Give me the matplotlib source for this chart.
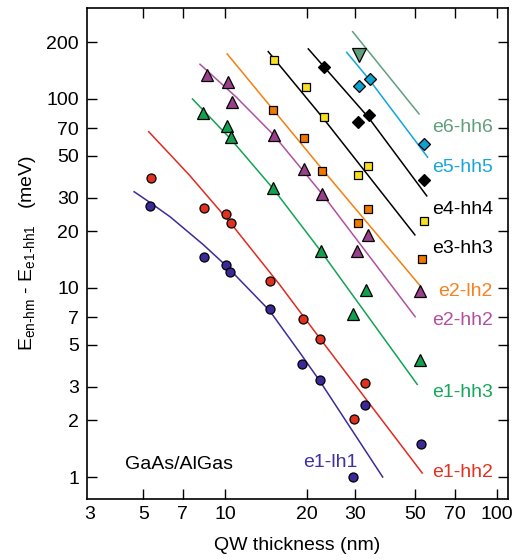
import numpy as np
import matplotlib
matplotlib.use("Agg")
import matplotlib.pyplot as plt
from matplotlib.ticker import FixedLocator, FixedFormatter, NullLocator

plt.rcParams['font.family'] = ['Liberation Sans', 'DejaVu Sans']
plt.rcParams['mathtext.fontset'] = 'custom'
plt.rcParams['mathtext.rm'] = 'Liberation Sans'

# measured points (QW thickness nm, energy meV)
e1lh1_x = [5.31, 8.37, 10.06, 10.47, 14.6, 19.2, 22.4, 32.9, 29.5, 52.5]
e1lh1_y = [27.0, 14.5, 13.2, 12.2, 7.7, 3.96, 3.26, 2.41, 1.0, 1.49]
e1hh2_x = [5.32, 8.37, 10.12, 10.53, 14.7, 19.3, 22.4, 32.9, 29.8]
e1hh2_y = [38.1, 26.4, 24.5, 22.0, 10.9, 6.86, 5.39, 3.15, 2.02]
e1hh3_x = [8.32, 10.2, 10.5, 15.0, 22.5, 33.1, 29.7, 52.0]
e1hh3_y = [84.0, 72.3, 63.2, 33.7, 15.7, 9.76, 7.26, 4.16]
e2hh2_x = [8.55, 10.26, 10.6, 15.1, 19.6, 22.8, 33.6, 30.6, 52.3]
e2hh2_y = [134, 123, 96.8, 64.5, 42.6, 31.4, 19.1, 15.7, 9.64]
e2lh2_x = [15.0, 19.6, 22.8, 33.5, 30.8, 53.1]
e2lh2_y = [87.5, 62.0, 41.8, 26.1, 22.0, 14.2]
e3hh3_x = [15.2, 19.85, 23.1, 30.8, 33.6, 54.0]
e3hh3_y = [161, 115, 80.3, 39.6, 44.0, 22.7]
e4hh4_x = [23.2, 31.0, 33.8, 53.8]
e4hh4_y = [148, 75.8, 82.3, 37.3]
e5hh5_x = [31.2, 34.2, 54.0]
e5hh5_y = [117.5, 127, 57.8]
e6hh6_x = [31.2]
e6hh6_y = [171]

# calculated curves
fit_e1lh1_x = [4.63, 5.3, 6.28, 8.3, 10.05, 14.58, 18.9, 22.4, 38.05]
fit_e1lh1_y = [32.3, 28.3, 23.8, 17.0, 13.2, 7.6, 4.53, 3.2, 1.0]
fit_e1hh2_x = [5.24, 7.4, 10.5, 15.9, 22.4, 53.2]
fit_e1hh2_y = [67.1, 39.5, 22.0, 10.4, 5.39, 1.05]
fit_e1hh3_x = [7.59, 10.5, 15.0, 22.5, 51.0]
fit_e1hh3_y = [100, 61.4, 33.7, 15.7, 3.09]
fit_e2hh2_x = [8.09, 11.0, 15.1, 22.8, 50.1]
fit_e2hh2_y = [152.6, 102.3, 64.5, 31.4, 7.05]
fit_e2lh2_x = [10.19, 22.8, 52.2]
fit_e2lh2_y = [173, 42.5, 10.3]
fit_e3hh3_x = [14.43, 23.0, 50.0]
fit_e3hh3_y = [178, 79, 19.1]
fit_e4hh4_x = [20.26, 33.7, 55.3]
fit_e4hh4_y = [184, 80, 30.7]
fit_e5hh5_x = [28.05, 33.9, 55.7]
fit_e5hh5_y = [176.6, 127, 49.2]
fit_e6hh6_x = [29.5, 51.8]
fit_e6hh6_y = [227, 83.3]

xticks = [5, 7, 10, 20, 30, 50, 70, 100]
yticks = [1, 2, 3, 5, 7, 10, 20, 30, 50, 70, 100, 200]

fig = plt.figure(figsize=(5.26, 5.6), dpi=100)
ax = fig.add_axes([0.1648, 0.1095, 0.8004, 0.8763])
ax.set_xscale('log')
ax.set_yscale('log')

fs = 14
lw = 1.1

# lines first
ax.plot(fit_e1lh1_x, fit_e1lh1_y, color='#3a2d9a', lw=lw)
ax.plot(fit_e1hh2_x, fit_e1hh2_y, color='#e02a20', lw=lw)
ax.plot(fit_e1hh3_x, fit_e1hh3_y, color='#12a354', lw=lw)
ax.plot(fit_e2hh2_x, fit_e2hh2_y, color='#b050a0', lw=lw)
ax.plot(fit_e2lh2_x, fit_e2lh2_y, color='#f28010', lw=lw)
ax.plot(fit_e3hh3_x, fit_e3hh3_y, color='black', lw=lw)
ax.plot(fit_e4hh4_x, fit_e4hh4_y, color='black', lw=lw)
ax.plot(fit_e5hh5_x, fit_e5hh5_y, color='#10a6dc', lw=lw)
ax.plot(fit_e6hh6_x, fit_e6hh6_y, color='#5f9f80', lw=lw)

# markers
mk = dict(ls='none', mec='black', mew=0.9)
ax.plot(e1lh1_x, e1lh1_y, 'o', ms=6.5, mfc='#3a2a98', **mk)
ax.plot(e1hh2_x, e1hh2_y, 'o', ms=6.5, mfc='#e0301e', **mk)
ax.plot(e1hh3_x, e1hh3_y, '^', ms=9.3, mfc='#12a04e', **mk)
ax.plot(e2hh2_x, e2hh2_y, '^', ms=8.5, mfc='#9a3f8c', **mk)
ax.plot(e2lh2_x, e2lh2_y, 's', ms=5.9, mfc='#f07800', **mk)
ax.plot(e3hh3_x, e3hh3_y, 's', ms=5.9, mfc='#f8e020', **mk)
ax.plot(e4hh4_x, e4hh4_y, 'D', ms=5.8, mfc='black', **mk)
ax.plot(e5hh5_x, e5hh5_y, 'D', ms=5.8, mfc='#12a0d0', **mk)
ax.plot(e6hh6_x, e6hh6_y, 'v', ms=10.5, mfc='#5f9f7a', **mk)

ax.set_xlim(3.097, 109.8)
ax.set_ylim(0.768, 303)

ax.xaxis.set_major_locator(FixedLocator(xticks))
ax.xaxis.set_major_formatter(FixedFormatter([str(t) for t in xticks]))
ax.xaxis.set_minor_locator(NullLocator())
ax.yaxis.set_major_locator(FixedLocator(yticks))
ax.yaxis.set_major_formatter(FixedFormatter([str(t) for t in yticks]))
ax.yaxis.set_minor_locator(NullLocator())
ax.tick_params(which='major', direction='in', length=7, width=1.0,
               top=True, right=True, labelsize=fs, pad=5.5)
for sp in ax.spines.values():
    sp.set_linewidth(1.2)

# the "3" sits on the left edge of the axis
ax.annotate('3', xy=(0.006, 0), xycoords='axes fraction', xytext=(0, -5.5),
            textcoords='offset points', ha='center', va='top', fontsize=fs)

ax.set_xlabel('QW thickness (nm)', fontsize=fs, labelpad=10)
ax.set_ylabel(r'$\mathregular{E_{en\text{-}hm}}$ - $\mathregular{E_{e1\text{-}hh1}}$   (meV)',
              fontsize=fs, labelpad=6)

# curve labels
tx = 0.965
ax.text(tx, 0.748, 'e6-hh6', color='#5fa07c', fontsize=fs, ha='right', va='baseline', transform=ax.transAxes)
ax.text(tx, 0.666, 'e5-hh5', color='#1aa6dc', fontsize=fs, ha='right', va='baseline', transform=ax.transAxes)
ax.text(tx, 0.581, 'e4-hh4', color='black', fontsize=fs, ha='right', va='baseline', transform=ax.transAxes)
ax.text(tx, 0.500, 'e3-hh3', color='black', fontsize=fs, ha='right', va='baseline', transform=ax.transAxes)
ax.text(tx, 0.413, 'e2-lh2', color='#f58220', fontsize=fs, ha='right', va='baseline', transform=ax.transAxes)
ax.text(tx, 0.354, 'e2-hh2', color='#b24fa0', fontsize=fs, ha='right', va='baseline', transform=ax.transAxes)
ax.text(tx, 0.208, 'e1-hh3', color='#16a85a', fontsize=fs, ha='right', va='baseline', transform=ax.transAxes)
ax.text(tx, 0.045, 'e1-hh2', color='#e3321f', fontsize=fs, ha='right', va='baseline', transform=ax.transAxes)
ax.text(0.578, 0.065, 'e1-lh1', color='#3f31a0', fontsize=fs, ha='center', va='baseline', transform=ax.transAxes)
ax.text(0.0914, 0.060, 'GaAs/AlGas', color='black', fontsize=fs, ha='left', va='baseline', transform=ax.transAxes)

plt.savefig('out.png', dpi=100)
